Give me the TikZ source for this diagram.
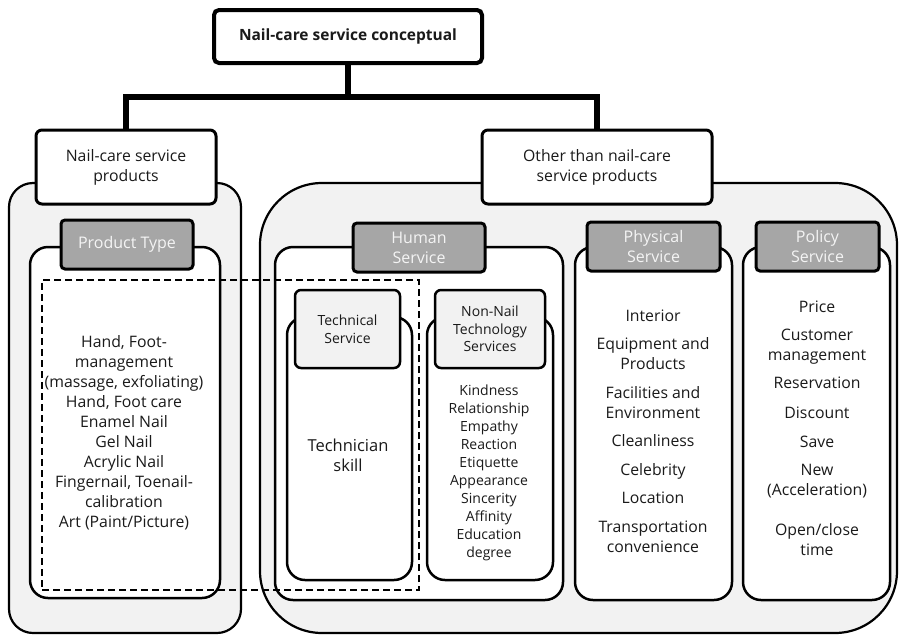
\documentclass[tikz,border=0pt]{standalone}
\usepackage{fontspec}
\setmainfont{Open Sans}
\usetikzlibrary{fit}
\definecolor{lightg}{HTML}{F2F2F2}
\definecolor{hdrg}{HTML}{A6A6A6}
\definecolor{hdrtxt}{HTML}{F4F4F4}
\definecolor{ink}{HTML}{1A1A1A}
\begin{document}
\begin{tikzpicture}[x=1pt,y=-1pt,
  every node/.style={inner sep=0pt, outer sep=0pt, text=ink},
  topbox/.style={draw, line width=4pt, rounded corners=5pt, fill=white},
  catbox/.style={draw, line width=3pt, rounded corners=6pt, fill=white},
  cattxt/.style={align=center, font=\fontsize{15.8}{20}\selectfont},
  cont/.style={draw, line width=2.2pt, fill=lightg, rounded corners=#1},
  inbox/.style={draw, line width=2.5pt, fill=white, rounded corners=18pt},
  hdr/.style={draw, line width=3pt, fill=hdrg, rounded corners=4pt},
  hdrtext/.style={text=hdrtxt, align=center, font=\fontsize{16}{20}\selectfont},
  subhdr/.style={draw, line width=2.5pt, fill=lightg, rounded corners=6pt},
  subtext/.style={align=center, font=\fontsize{14}{17.5}\selectfont},
  items/.style={align=center, font=\fontsize{15.8}{20}\selectfont},
  smitems/.style={align=center, font=\fontsize{14}{18}\selectfont},
  conn/.style={line width=6pt},
  dashbox/.style={draw, line width=2pt, dash pattern=on 7pt off 4pt}
]
\useasboundingbox (0,0) rectangle (899,635);

% title and connectors
\node[topbox, fit={(214,10)(482,63)}] (top) {};
\node at (top.center) {\bfseries\fontsize{15.5}{18}\selectfont Nail-care service conceptual};
\node[fit={(36,130)(216,204)}] (leftcat0) {};
\node[fit={(482,130)(712,204)}] (rightcat0) {};
\coordinate (j) at (348,97);
\draw[conn] (top.south) -- (j);
\draw[conn] (leftcat0.north) |- (j) -| (rightcat0.north);

% containers
\node[cont=24pt, fit={(9,183)(241,633)}] (leftcont) {};
\node[cont=62pt, fit={(260,183)(897,633)}] (rightcont) {};

% category boxes
\node[catbox, fit={(36,130)(216,204)}] (leftcat) {};
\node[cattxt] (leftcattxt) at (leftcat.center) {Nail-care service\\products};
\node[catbox, fit={(482,130)(712,204)}] (rightcat) {};
\node[cattxt] (rightcattxt) at (rightcat.center) {Other than nail-care\\service products};

% inner white boxes
\node[inbox, fit={(30,247)(220,598)}] (prodbox) {};
\node[inbox, fit={(275,247)(563,600)}] (humanbox) {};
\node[inbox, fit={(575,247)(732,600)}] (physbox) {};
\node[inbox, fit={(743,247)(890,600)}] (polbox) {};
\node[inbox, fit={(287,317)(412,580)}] (techbox) {};
\node[inbox, fit={(427,317)(553,580)}] (nonbox) {};

% headers
\node[hdr, fit={(61,220)(193,269)}] (prodhdr) {};
\node[hdrtext] (prodhdrtxt) at (prodhdr.center) {Product Type};
\node[hdr, fit={(353,223)(485,272)}] (humanhdr) {};
\node[hdrtext] (humanhdrtxt) at (humanhdr.center) {Human\\Service};
\node[hdr, fit={(587,222)(720,271)}] (physhdr) {};
\node[hdrtext] (physhdrtxt) at (physhdr.center) {Physical\\Service};
\node[hdr, fit={(756,222)(879,271)}] (polhdr) {};
\node[hdrtext] (polhdrtxt) at (polhdr.center) {Policy\\Service};
\node[subhdr, fit={(295,290)(400,368)}] (techhdr) {};
\node[subtext] (techhdrtxt) at (techhdr.center) {Technical\\Service};
\node[subhdr, fit={(435,290)(545,368)}] (nonhdr) {};
\node[subtext] (nonhdrtxt) at (nonhdr.center) {Non-Nail\\Technology\\Services};

% item texts
\node[items] (prodtxt) at (124,433) {Hand, Foot-\\management\\(massage, exfoliating)\\Hand, Foot care\\Enamel Nail\\Gel Nail\\Acrylic Nail\\Fingernail, Toenail-\\calibration\\Art (Paint/Picture)};
\node[items, font=\fontsize{16.5}{20}\selectfont] (techtxt) at (348,455) {Technician\\skill};
\node[smitems] (nontxt) at (489,473) {Kindness\\Relationship\\Empathy\\Reaction\\Etiquette\\Appearance\\Sincerity\\Affinity\\Education\\degree};
\node[items] (phystxt) at (653,431) {Interior\\[8.5pt]Equipment and\\Products\\[8.5pt]Facilities and\\Environment\\[8.5pt]Cleanliness\\[8.5pt]Celebrity\\[8.5pt]Location\\[8.5pt]Transportation\\convenience};
\node[items] (poltxt) at (817,428.5) {Price\\[8pt]Customer\\management\\[8pt]Reservation\\[10pt]Discount\\[9pt]Save\\[8pt]New\\(Acceleration)\\[20pt]Open/close\\time};

% dashed selection
\node[dashbox, fit={(42,280)(419,590)}] (sel) {};
\end{tikzpicture}
\end{document}
